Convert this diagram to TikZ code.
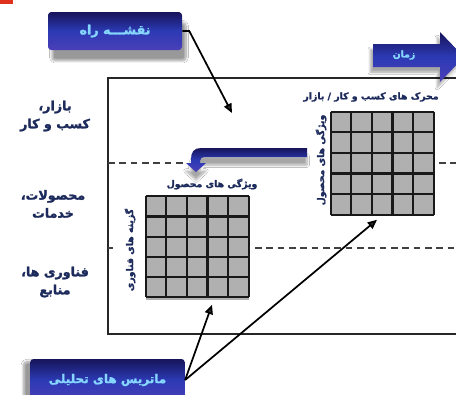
\documentclass[tikz,border=0pt]{standalone}
\usepackage{fontspec}
\TeXXeTstate=1
\newfontfamily\fa[Script=Arabic,FakeBold=1.6]{DejaVu Sans Bold}
\usetikzlibrary{shadows.blur,arrows.meta,calc}
\definecolor{navy}{HTML}{1C2A5C}
\definecolor{boxtop}{HTML}{17145A}
\definecolor{boxmid}{HTML}{2C3AB4}
\definecolor{boxbot}{HTML}{4A3FB8}
\definecolor{boxtext}{HTML}{86D6FF}
\definecolor{cellgray}{HTML}{B0B0B0}
\definecolor{redmark}{HTML}{E0301E}
\tikzset{
  rowlabel/.style={font=\fa\fontsize{9.5}{13.5}\selectfont, text=navy, align=center, inner sep=0pt},
  axislabel/.style={font=\fa\fontsize{7}{9}\selectfont, text=navy, inner sep=0pt},
  bluebox/.style={rounded corners=2.5pt, top color=boxtop, bottom color=boxbot, middle color=boxmid,
    text=boxtext, inner sep=0pt},
  cellgrid/.style={fill=cellgray, minimum width=77.25pt, minimum height=77.25pt, inner sep=0pt},
  gridline/.style={line width=1.7pt, draw=black!90},
  dashline/.style={line width=1pt, draw=black!75, dash pattern=on 5pt off 3.5pt},
  arr/.style={line width=1.3pt, -{Triangle[length=7pt,width=6pt]}},
  frame/.style={line width=1.6pt, draw=black!85},
}
\begin{document}
\begin{tikzpicture}[x=0.75pt,y=-0.75pt]
\clip (0,0) rectangle (456,394);
\fill[white] (0,0) rectangle (456,394);
\fill[redmark] (0,0) rectangle (13,4);

% main frame
\draw[frame] (108,78) rectangle (480,334);

% separating dashed lines
\draw[dashline] (108,163) -- (184,163);
\draw[dashline] (439,163) -- (460,163);
\draw[dashline] (255,248) -- (460,248);
\draw[dashline] (108,248) -- (113,248);

% row labels
\node[rowlabel] (rowa) at (55,116) {\beginR بازار،\endR\\\beginR کسب و کار\endR};
\node[rowlabel] (rowb) at (53,204) {\beginR محصولات،\endR\\\beginR خدمات\endR};
\node[rowlabel] (rowc) at (55,282) {\beginR فناوری ها،\endR\\\beginR منابع\endR};

% upper matrix
\node[cellgrid] (g1) at (382.5,163.5) {};
\foreach \i in {0,...,5} {
  \draw[gridline] ($(g1.north west)+(\i*20.6,0)$) -- ++(0,103);
  \draw[gridline] ($(g1.north west)+(0,\i*20.6)$) -- ++(103,0);
}
\node[axislabel] (g1top) at (371,97) {\beginR محرک های کسب و کار / بازار\endR};
\node[axislabel, rotate=90] (g1side) at (321,160) {\beginR ویژگی های محصول\endR};

% lower matrix
\node[cellgrid] (g2) at (197.5,248) {};
\foreach \i in {0,...,5} {
  \draw[gridline] ($(g2.north west)+(\i*20.6,0)$) -- ++(0,101);
  \draw[gridline] ($(g2.north west)+(0,\i*20.2)$) -- ++(103,0);
}
\node[axislabel] (g2top) at (212,184) {\beginR ویژگی های محصول\endR};
\node[axislabel, rotate=90] (g2side) at (130,250) {\beginR گزینه های فناوری\endR};

% curved transfer arrow
\path[top color=boxtop, bottom color=boxbot, middle color=boxmid,
      blur shadow={shadow xshift=0pt, shadow yshift=-6pt, shadow blur steps=8, shadow opacity=35}]
  (307,148) -- (201,148) .. controls (194,148) and (191,152) .. (191,159) -- (191,163)
  -- (186,163) -- (196,172) -- (206,163) -- (200,163) -- (200,161)
  .. controls (200,158) and (202,157) .. (205,157) -- (307,157) -- cycle;

% time arrow
\path[top color=boxtop, bottom color=boxbot, middle color=boxmid,
      blur shadow={shadow xshift=-2pt, shadow yshift=-4pt, shadow blur steps=8, shadow opacity=35}]
  (373,44) -- (440,44) -- (440,32) -- (464,57) -- (440,82) -- (440,67) -- (373,67) -- cycle;
\node[font=\fa\fontsize{7}{8}\selectfont, text=boxtext] (zaman) at (404,55) {\beginR زمان\endR};

% title boxes
\node[bluebox, font=\fa\fontsize{9.5}{11}\selectfont, minimum width=100.5pt, minimum height=28.5pt,
      blur shadow={shadow xshift=3pt, shadow yshift=-8pt, shadow blur steps=12, shadow opacity=40}]
  (roadmap) at (115,31) {\beginR نقشـــه راه\endR};
\node[bluebox, font=\fa\fontsize{9}{11}\selectfont, minimum width=116pt, minimum height=31.5pt,
      blur shadow={shadow xshift=-5pt, shadow yshift=-2pt, shadow blur steps=12, shadow opacity=40}]
  (matrices) at (107.5,380) {\beginR ماتریس های تحلیلی\endR};

% connectors
\coordinate (hit1) at (232,113);
\coordinate (hit2) at ($(g2.south)+(14.5,5)$);
\coordinate (hit3) at ($(g1.south)+(-5.5,4.5)$);
\draw[arr] (roadmap.east) -- ++(7,0) -- (hit1);
\draw[arr] (matrices.east) -- (hit2);
\draw[arr] (matrices.east) -- (hit3);
\end{tikzpicture}
\end{document}
